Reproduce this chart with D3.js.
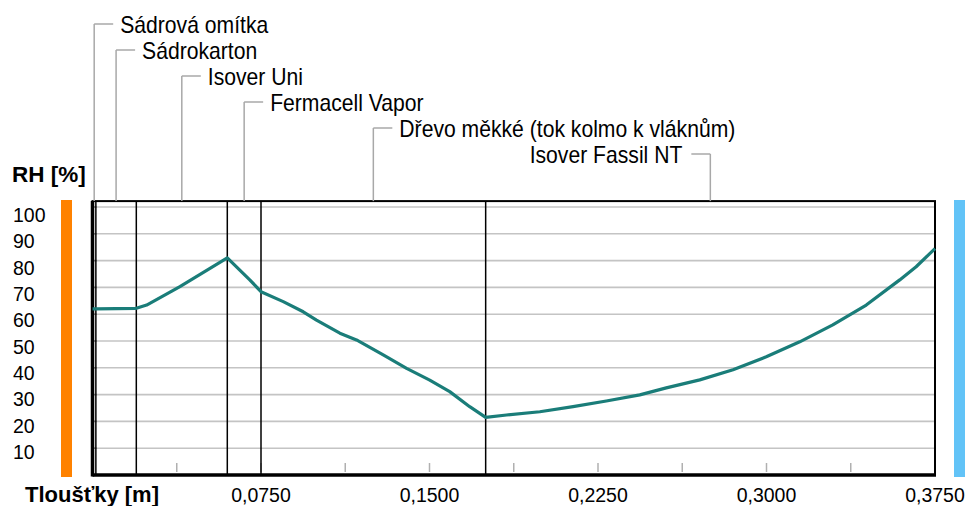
<!DOCTYPE html>
<html><head><meta charset="utf-8">
<script src="https://cdn.jsdelivr.net/npm/d3@7"></script>
<style>
html,body{margin:0;padding:0;background:#fff;}
svg{display:block;}
text{font-family:"Liberation Sans",Arial,sans-serif;fill:#000;}
</style></head>
<body><svg id="chart" width="971" height="506"></svg>
<script>
// ---- data ----
const layerNames = ["Sádrová omítka","Sádrokarton","Isover Uni","Fermacell Vapor","Dřevo měkké (tok kolmo k vláknům)","Isover Fassil NT"];
const layerBounds = [0, 0.0015, 0.0195, 0.06, 0.075, 0.175, 0.375];
const depth = [0, 0.0015, 0.0195, 0.0241, 0.0389, 0.06, 0.07, 0.075, 0.0849, 0.0938, 0.0997, 0.1101, 0.1175, 0.1294, 0.1398, 0.1501, 0.159, 0.1679, 0.175, 0.1843, 0.1991, 0.2139, 0.2287, 0.2436, 0.2554, 0.2703, 0.2851, 0.2999, 0.3148, 0.3295, 0.3444, 0.3593, 0.3666, 0.375];
const rh = [62, 62, 62.2, 63.4, 70.3, 81, 72.8, 68.4, 64.7, 60.9, 57.8, 52.9, 50.4, 44.8, 39.8, 35.4, 31.1, 25.5, 21.5, 22.4, 23.6, 25.5, 27.6, 29.9, 32.5, 35.5, 39.3, 44.1, 49.7, 56, 63.4, 72.8, 77.7, 84.5];
const yTickValues = [10,20,30,40,50,60,70,80,90,100];
const xLabelValues = [0.075, 0.15, 0.225, 0.3, 0.375];
const xTickLabels = ["0,0750","0,1500","0,2250","0,3000","0,3750"];
const xMinorTicks = [0.0375,0.075,0.1125,0.15,0.1875,0.225,0.2625,0.3,0.3375];
const yTitle = "RH [%]";
const xTitle = "Tloušťky [m]";

// ---- layout ----
const svg = d3.select("#chart");
const x = d3.scaleLinear().domain([0, 0.375]).range([92.5, 935]);
const y = d3.scaleLinear().domain([0, 100]).range([475, 207]);
const yLabelPos = d3.scaleLinear().domain([10, 100]).range([452, 215]);
const plotTop = y(102.2), plotBottom = y(0);

// side colour bars
svg.append("rect").attr("x", 61).attr("y", 200).attr("width", 11).attr("height", 277).attr("fill", "#ff8200");
svg.append("rect").attr("x", 954).attr("y", 200).attr("width", 11).attr("height", 277).attr("fill", "#62c3f7");

// gridlines
svg.append("g").selectAll("line").data(yTickValues).join("line")
  .attr("x1", x(0)).attr("x2", x(0.375))
  .attr("y1", d => y(d)).attr("y2", d => y(d))
  .attr("stroke", "#c4c4c4").attr("stroke-width", 1.6);

// minor ticks on left border
svg.append("g").selectAll("line").data(yTickValues).join("line")
  .attr("x1", x(0)).attr("x2", x(0) + 4)
  .attr("y1", d => y(d)).attr("y2", d => y(d))
  .attr("stroke", "#888").attr("stroke-width", 1.5);

// bottom minor ticks
svg.append("g").selectAll("line").data(xMinorTicks).join("line")
  .attr("x1", d => x(d)).attr("x2", d => x(d))
  .attr("y1", plotBottom - 12).attr("y2", plotBottom - 3)
  .attr("stroke", "#b0b0b0").attr("stroke-width", 1.5);

// layer boundaries
svg.append("g").selectAll("line").data(layerBounds.slice(1, -1)).join("line")
  .attr("x1", d => x(d)).attr("x2", d => x(d))
  .attr("y1", plotTop).attr("y2", plotBottom)
  .attr("stroke", "#000").attr("stroke-width", 1.5);

// border
svg.append("rect").attr("x", x(0)).attr("y", plotTop)
  .attr("width", x(0.375) - x(0)).attr("height", plotBottom - plotTop)
  .attr("fill", "none").attr("stroke", "#000").attr("stroke-width", 2);
svg.append("line").attr("x1", x(0)).attr("x2", x(0)).attr("y1", plotTop).attr("y2", plotBottom + 1.5)
  .attr("stroke", "#000").attr("stroke-width", 3.5);
svg.append("line").attr("x1", x(0)).attr("x2", x(0.375) + 1).attr("y1", plotBottom).attr("y2", plotBottom)
  .attr("stroke", "#000").attr("stroke-width", 3.5);

// RH curve
const line = d3.line().x((d, i) => x(depth[i])).y(d => y(d));
svg.append("path").datum(rh).attr("d", line)
  .attr("fill", "none").attr("stroke", "#1a7d79").attr("stroke-width", 3.2)
  .attr("stroke-linejoin", "round");

// y labels
svg.append("g").selectAll("text").data(yTickValues).join("text")
  .attr("x", 13).attr("y", d => yLabelPos(d) + 7)
  .attr("font-size", "19.5px").text(d => d);

// x labels
svg.append("g").selectAll("text").data(xLabelValues).join("text")
  .attr("x", d => x(d)).attr("y", 501.5).attr("text-anchor", "middle")
  .attr("font-size", "19.5px").text((d, i) => xTickLabels[i]);

// titles
svg.append("text").attr("x", 12).attr("y", 182).attr("font-size", "22.5px").attr("font-weight", "bold").text(yTitle);
svg.append("text").attr("x", 25).attr("y", 502).attr("font-size", "22px").attr("font-weight", "bold").text(xTitle);

// layer labels with leader lines
const leaders = svg.append("g");
layerNames.forEach((name, i) => {
  const mid = x((layerBounds[i] + layerBounds[i + 1]) / 2);
  const ly = 24 + i * 26;
  const right = i === layerNames.length - 1;
  leaders.append("line").attr("x1", mid).attr("x2", mid).attr("y1", ly).attr("y2", plotTop)
    .attr("stroke", "#a8a8a8").attr("stroke-width", 1.5);
  leaders.append("line").attr("x1", mid).attr("x2", right ? mid - 19 : mid + 19).attr("y1", ly).attr("y2", ly)
    .attr("stroke", "#a8a8a8").attr("stroke-width", 1.5);
  leaders.append("text")
    .attr("transform", `translate(${right ? mid - 28 : mid + 26},${ly + 9}) scale(0.92,1)`)
    .attr("text-anchor", right ? "end" : "start")
    .attr("font-size", "23px").text(name);
});
</script></body></html>
